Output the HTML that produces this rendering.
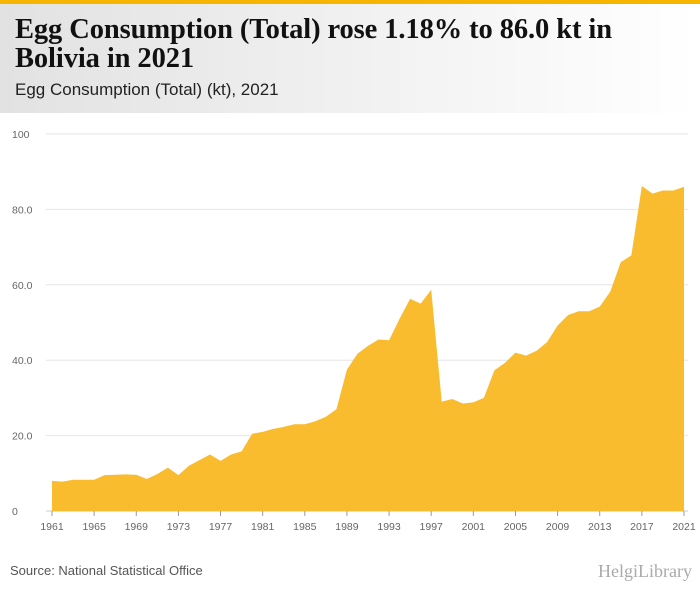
<!DOCTYPE html>
<html><head><meta charset="utf-8"><style>
body{margin:0;width:700px;height:596px;background:#fff;font-family:"Liberation Sans",sans-serif;position:relative;overflow:hidden}
#bar{position:absolute;left:0;top:0;width:700px;height:4px;background:#f7b500}
#hdr{position:absolute;left:0;top:4px;width:700px;height:109px;background:linear-gradient(90deg,#e2e2e2,#fff)}
#t{position:absolute;left:15px;top:15px;font-family:"Liberation Serif",serif;font-weight:bold;font-size:28.5px;line-height:29px;color:#111;letter-spacing:-0.1px}
#st{position:absolute;left:15px;top:80px;font-size:17px;color:#222}
#src{position:absolute;left:10px;top:563px;font-size:13px;color:#555}
#logo{position:absolute;left:598px;top:561px;font-size:18px;color:#aaa;font-family:"Liberation Serif",serif}
svg{position:absolute;left:0;top:0}
</style></head><body>
<div id="bar"></div>
<div id="hdr"></div>
<div id="t">Egg Consumption (Total) rose 1.18% to 86.0 kt in<br>Bolivia in 2021</div>
<div id="st">Egg Consumption (Total) (kt), 2021</div>
<svg id="c" width="700" height="596"></svg>
<div id="src">Source: National Statistical Office</div>
<div id="logo">HelgiLibrary</div>
<script>
const years=[];for(let y=1961;y<=2021;y++)years.push(y);
const values=[8,7.8,8.3,8.3,8.3,9.5,9.6,9.7,9.6,8.5,9.8,11.5,9.5,12,13.5,15,13.3,15,15.8,20.5,21,21.8,22.3,23,23,23.8,25,27,37.5,41.7,43.8,45.5,45.3,51,56.3,55,58.7,29,29.7,28.5,28.8,30,37.3,39.3,42,41.2,42.5,44.8,49.2,52,53,53,54.2,58.2,66,67.8,86.2,84.2,85,85,86];
const yTicks=[0,20,40,60,80,100];
const yTickLabels=["0","20.0","40.0","60.0","80.0","100"];
const xTicks=[1961,1965,1969,1973,1977,1981,1985,1989,1993,1997,2001,2005,2009,2013,2017,2021];
const NS="http://www.w3.org/2000/svg";const svg=document.getElementById('c');
const x=v=>52+(v-1961)*(632/60);const y=v=>511-v*3.77;
function mk(t,a){const e=document.createElementNS(NS,t);for(const k in a)e.setAttribute(k,a[k]);svg.appendChild(e);return e;}
yTicks.forEach((t,i)=>{
 const l=mk('line',{x1:46,x2:688,y1:y(t),y2:y(t),stroke:t===0?'#ccc':'#e6e6e6','stroke-width':1});
 
 
 const tx=mk('text',{x:12,y:y(t)+4,'font-size':10.5,fill:'#666','font-family':'Liberation Sans'});tx.textContent=yTickLabels[i];
 
 
});
let d='M'+x(years[0])+','+y(0);
years.forEach((yr,i)=>{d+=' L'+x(yr)+','+y(values[i]);});
d+=' L'+x(years[years.length-1])+','+y(0)+' Z';
const p=mk('path',{d:d,fill:'#f9bc2e'});


xTicks.forEach(t=>{
 const l=mk('line',{x1:x(t),x2:x(t),y1:511,y2:516,stroke:'#999'});
 
 
 const tx=mk('text',{x:x(t),y:530,'font-size':10.5,fill:'#666','text-anchor':'middle','font-family':'Liberation Sans'});tx.textContent=t;
 
 
});
</script>
</body></html>
